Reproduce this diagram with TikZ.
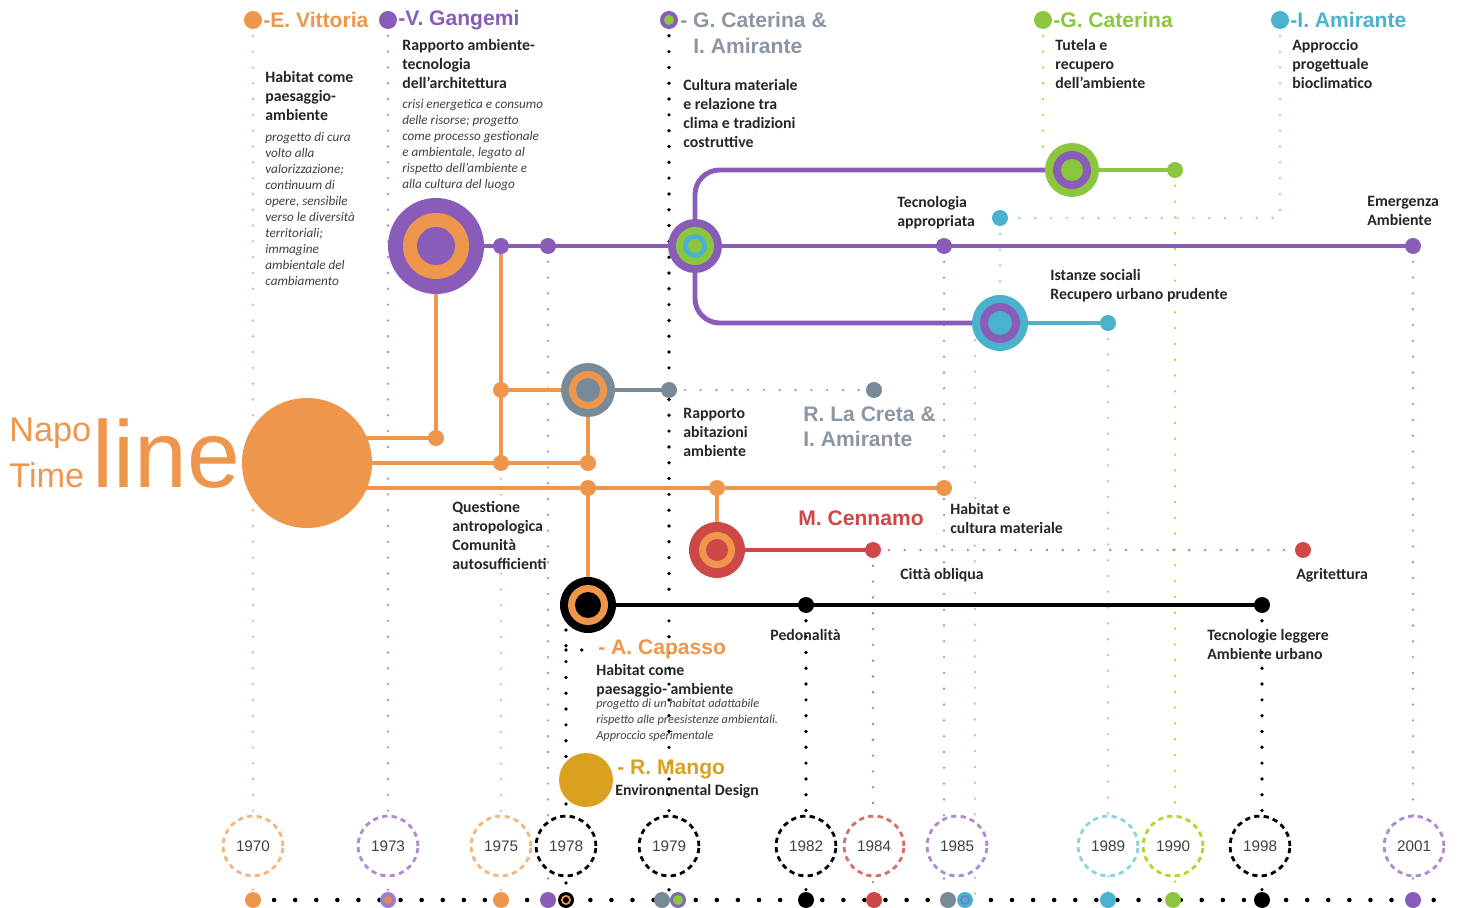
\documentclass[tikz,border=0pt]{standalone}
\usepackage{fontspec}
\setmainfont{Carlito}
\setsansfont{Liberation Sans}
\definecolor{orangeT}{RGB}{238,150,75}
\definecolor{purpleT}{RGB}{138,92,186}
\definecolor{grayT}{RGB}{120,138,152}
\definecolor{greenT}{RGB}{140,198,63}
\definecolor{blueT}{RGB}{74,178,204}
\definecolor{redT}{RGB}{206,72,72}
\definecolor{goldT}{RGB}{218,160,32}
\definecolor{nameT}{RGB}{140,150,162}
\tikzset{
  tline/.style={line width=2.8pt,draw=#1},
  ydots/.style={draw=#1,line width=1.5pt,line cap=round,dash pattern=on 0pt off 9pt},
  bdots/.style={draw=black,line width=2.1pt,line cap=round,dash pattern=on 0pt off 9pt},
  yearc/.style={circle,draw=#1,fill=white,line width=1.6pt,dash pattern=on 3pt off 2.4pt,
    minimum size=34pt,inner sep=0pt,font=\sffamily\fontsize{8.7}{9}\selectfont,text=black!75},
  tname/.style={font=\sffamily\bfseries\fontsize{12}{15}\selectfont,text=#1,anchor=west,inner sep=0pt},
  tnote/.style={font=\bfseries\fontsize{9}{10.8}\selectfont,align=left,anchor=north west,
    inner sep=0pt,text=black!85},
  tital/.style={font=\itshape\fontsize{7.5}{9.1}\selectfont,align=left,anchor=north west,
    inner sep=0pt,text=black!75},
}
\begin{document}
\begin{tikzpicture}[x=0.02cm,y=-0.02cm]
  \useasboundingbox (0,0) rectangle (1460,908);
  % legend points on top
  \coordinate (lgEV) at (253,20);
  \coordinate (lgVG) at (388,20);
  \coordinate (lgGI) at (669,20);
  \coordinate (lgGC) at (1043,20);
  \coordinate (lgIA) at (1280,20);
  % hubs and branch points
  \coordinate (napo) at (307,463);
  \coordinate (gang) at (436,246);
  \coordinate (v1) at (436,438);
  \coordinate (j1) at (501,246);
  \coordinate (j2) at (548,246);
  \coordinate (gcia) at (695,246);
  \coordinate (tec) at (944,246);
  \coordinate (emer) at (1413,246);
  \coordinate (gcat) at (1072,170);
  \coordinate (gcatT) at (1043,148);
  \coordinate (gcatend) at (1175,170);
  \coordinate (iami) at (1000,323);
  \coordinate (iamiS) at (975,340);
  \coordinate (iamiend) at (1108,323);
  \coordinate (bio) at (1000,218);
  \coordinate (lcr) at (588,390);
  \coordinate (lcrA) at (501,390);
  \coordinate (lcrB) at (669,390);
  \coordinate (lcrC) at (874,390);
  \coordinate (o1) at (501,463);
  \coordinate (o2) at (588,463);
  \coordinate (o3) at (588,488);
  \coordinate (o4) at (717,488);
  \coordinate (o5) at (944,488);
  \coordinate (cen) at (717,550);
  \coordinate (cenA) at (873,550);
  \coordinate (cenB) at (1303,550);
  \coordinate (cap) at (588,605);
  \coordinate (capS) at (566,630);
  \coordinate (capT) at (566,650);
  \coordinate (capA) at (806,605);
  \coordinate (capB) at (1262,605);
  \coordinate (mango) at (586,780);
  % bottom marks
  \coordinate (b1970) at (253,900);
  \coordinate (b1973) at (388,900);
  \coordinate (b1975) at (501,900);
  \coordinate (b1978a) at (548,900);
  \coordinate (b1978b) at (566,900);
  \coordinate (b1979a) at (662,900);
  \coordinate (b1979b) at (678,900);
  \coordinate (b1982) at (806,900);
  \coordinate (b1984) at (874,900);
  \coordinate (b1985a) at (948,900);
  \coordinate (b1985b) at (965,900);
  \coordinate (b1989) at (1108,900);
  \coordinate (b1990) at (1173,900);
  \coordinate (b1998) at (1262,900);
  \coordinate (b2001) at (1413,900);
  \coordinate (bend) at (1452,900);

  % dotted guides
  \draw[ydots=orangeT!75] (lgEV) -- (lgEV |- b1970);
  \draw[ydots=purpleT!70] (lgVG) -- (lgVG |- b1970);
  \draw[ydots=orangeT!70] (o1) -- (o1 |- b1970);
  \draw[ydots=purpleT!70] (j2) -- (j2 |- b1970);
  \draw[ydots=purpleT!70] (tec) -- (tec |- b1970);
  \draw[ydots=blueT!60] (iamiS) -- (iamiS |- b1970);
  \draw[ydots=blueT!60] (iamiend) -- (iamiend |- b1970);
  \draw[ydots=greenT!70!yellow] (gcatend) -- (gcatend |- b1970);
  \draw[ydots=purpleT!70] (emer) -- (emer |- b1970);
  \draw[ydots=redT!80] (cenA) -- (cenA |- b1970);
  \draw[ydots=greenT!70!yellow] (lgGC) -- (gcatT);
  \draw[ydots=blueT!60] (lgIA) -- (lgIA |- bio) -- (bio);
  \draw[ydots=blueT!60] (bio) -- (iami);
  \draw[ydots=grayT!80] (lcrB) -- (lcrC);
  \draw[ydots=redT!80] (cenA) -- (cenB);
  \draw[bdots] (lgGI) -- (lgGI |- b1970);
  \draw[bdots] (capS) -- (capS |- b1970);
  \draw[bdots] (capA) -- (capA |- b1970);
  \draw[bdots] (capB) -- (capB |- b1970);
  \draw[bdots] (capT) -- (594,650);
  \draw[bdots,line width=2.6pt,dash pattern=on 0pt off 12pt] (b1970) -- (bend);

  % branches
  \draw[tline=orangeT] (napo |- v1) -- (v1) -- (gang);
  \draw[tline=orangeT] (napo) -- (o2) -- (lcr);
  \draw[tline=orangeT] (j1) -- (o1);
  \draw[tline=orangeT] (lcrA) -- (lcr);
  \draw[tline=orangeT] (napo |- o3) -- (o5);
  \draw[tline=orangeT] (o3) -- (cap);
  \draw[tline=orangeT] (o4) -- (cen);
  \draw[tline=purpleT] (gang) -- (emer);
  \draw[tline=purpleT,rounded corners=14pt] (gcia) -- (gcia |- gcat) -- (gcat);
  \draw[tline=purpleT,rounded corners=14pt] (gcia) -- (gcia |- iami) -- (iami);
  \draw[tline=greenT] (gcat) -- (gcatend);
  \draw[tline=blueT] (iami) -- (iamiend);
  \draw[tline=grayT] (lcr) -- (lcrB);
  \draw[tline=redT] (cen) -- (cenA);
  \draw[tline=black] (cap) -- (capB);

  % rings
  \fill[orangeT] (napo) circle[radius=65];
  \fill[purpleT] (gang) circle[radius=48];
  \fill[orangeT] (gang) circle[radius=33];
  \fill[purpleT] (gang) circle[radius=19];
  \fill[purpleT] (gcia) circle[radius=27];
  \fill[greenT] (gcia) circle[radius=19];
  \fill[blueT] (gcia) circle[radius=12];
  \fill[greenT] (gcia) circle[radius=7];
  \fill[greenT] (gcat) circle[radius=27];
  \fill[purpleT] (gcat) circle[radius=19];
  \fill[greenT] (gcat) circle[radius=11];
  \fill[blueT] (iami) circle[radius=28];
  \fill[purpleT] (iami) circle[radius=20];
  \fill[blueT] (iami) circle[radius=12];
  \fill[grayT] (lcr) circle[radius=27];
  \fill[orangeT] (lcr) circle[radius=19];
  \fill[grayT] (lcr) circle[radius=12];
  \fill[redT] (cen) circle[radius=28];
  \fill[orangeT] (cen) circle[radius=18];
  \fill[redT] (cen) circle[radius=11];
  \fill[black] (cap) circle[radius=28];
  \fill[orangeT] (cap) circle[radius=20];
  \fill[black] (cap) circle[radius=13];
  \fill[goldT] (mango) circle[radius=27];

  % dots
  \foreach \p in {j1,j2,tec,emer}
    \fill[purpleT] (\p) circle[radius=8];
  \foreach \p in {v1,lcrA,o1,o2,o3,o4,o5}
    \fill[orangeT] (\p) circle[radius=8];
  \fill[greenT] (gcatend) circle[radius=8];
  \fill[blueT] (iamiend) circle[radius=8];
  \fill[blueT] (bio) circle[radius=8];
  \fill[grayT] (lcrB) circle[radius=8];
  \fill[grayT] (lcrC) circle[radius=8];
  \fill[redT] (cenA) circle[radius=8];
  \fill[redT] (cenB) circle[radius=8];
  \fill[black] (capA) circle[radius=8];
  \fill[black] (capB) circle[radius=8];

  % legend
  \fill[orangeT] (lgEV) circle[radius=9];
  \fill[purpleT] (lgVG) circle[radius=9];
  \fill[purpleT] (lgGI) circle[radius=9];
  \fill[greenT] (lgGI) circle[radius=5];
  \fill[greenT] (lgGC) circle[radius=9];
  \fill[blueT] (lgIA) circle[radius=9];
  \node[tname=orangeT] (nEV) at (263,20) {-E. Vittoria};
  \node[tname=purpleT] (nVG) at (398,20) {-V. Gangemi};
  \node[tname=nameT] (nGI) at (680,20) {- G. Caterina \&};
  \node[tname=nameT] (nGIb) at (693,46) {I. Amirante};
  \node[tname=greenT] (nGC) at (1053,20) {-G. Caterina};
  \node[tname=blueT] (nIA) at (1290,20) {-I. Amirante};
  \node[tname=nameT] (nLC) at (803,414) {R. La Creta \&};
  \node[tname=nameT] (nLCb) at (803,439) {I. Amirante};
  \node[tname=redT] (nMC) at (798,518) {M. Cennamo};
  \node[tname=orangeT] (nAC) at (598,649) {- A. Capasso};
  \node[tname=goldT] (nRM) at (617,769) {- R. Mango};

  % title
  \node[font=\sffamily\fontsize{19.5}{20}\selectfont,text=orangeT,anchor=base west,inner sep=0pt]
    (napoA) at (9,442) {Napo};
  \node[font=\sffamily\fontsize{19.5}{20}\selectfont,text=orangeT,anchor=base west,inner sep=0pt]
    (napoB) at (9,488) {Time};
  \node[font=\sffamily\fontsize{54}{54}\selectfont,text=orangeT,anchor=base west,inner sep=0pt]
    (napoC) at (92,488) {line};

  % texts
  \node[tnote] (tEV) at (265,71) {Habitat come\\paesaggio-\\ambiente};
  \node[tital] (tEVi) at (265,132) {progetto di cura\\volto alla\\valorizzazione;\\continuum di\\opere, sensibile\\verso le diversità\\territoriali;\\immagine\\ambientale del\\cambiamento};
  \node[tnote] (tVG) at (402,39) {Rapporto ambiente-\\tecnologia\\dell'architettura};
  \node[tital] (tVGi) at (402,99) {crisi energetica e consumo\\delle risorse; progetto\\come processo gestionale\\e ambientale, legato al\\rispetto dell'ambiente e\\alla cultura del luogo};
  \node[tnote] (tGI) at (683,79) {Cultura materiale\\e relazione tra\\clima e tradizioni\\costruttive};
  \node[tnote] (tGC) at (1055,39) {Tutela e\\recupero\\dell'ambiente};
  \node[tnote] (tIA) at (1292,39) {Approccio\\progettuale\\bioclimatico};
  \node[tnote] (tTec) at (897,196) {Tecnologia\\appropriata};
  \node[tnote] (tEm) at (1367,196) {Emergenza\\Ambiente};
  \node[tnote] (tIst) at (1050,269) {Istanze sociali\\Recupero urbano prudente};
  \node[tnote] (tRap) at (683,408) {Rapporto\\abitazioni\\ambiente};
  \node[tnote] (tQue) at (452,501) {Questione\\antropologica\\Comunità\\autosufficienti};
  \node[tnote] (tHab) at (950,503) {Habitat e\\cultura materiale};
  \node[tnote] (tCit) at (900,568) {Città obliqua};
  \node[tnote] (tAgr) at (1296,568) {Agritettura};
  \node[tnote] (tPed) at (770,629) {Pedonalità};
  \node[tnote] (tLeg) at (1207,629) {Tecnologie leggere\\Ambiente urbano};
  \node[tnote] (tAC) at (596,664) {Habitat come\\paesaggio- ambiente};
  \node[tital,font=\itshape\fontsize{7}{9.1}\selectfont] (tACi) at (596,699) {progetto di un habitat adattabile\\rispetto alle preesistenze ambientali.\\Approccio sperimentale};
  \node[tnote] (tRM) at (615,784) {Environmental Design};

  % years
  \foreach \x/\yr/\c in {253/1970/orangeT!70, 388/1973/purpleT!70, 501/1975/orangeT!70,
      566/1978/black, 669/1979/black, 806/1982/black, 874/1984/redT!80,
      957/1985/purpleT!70, 1108/1989/blueT!60, 1173/1990/greenT!70!yellow,
      1260/1998/black, 1414/2001/purpleT!70}
    \node[yearc=\c] (y\yr) at (\x,846) {\yr};

  % bottom marks
  \fill[orangeT] (b1970) circle[radius=8];
  \fill[purpleT!80] (b1973) circle[radius=8];
  \fill[orangeT!80!purpleT] (b1973) circle[radius=4];
  \fill[orangeT] (b1975) circle[radius=8];
  \fill[purpleT] (b1978a) circle[radius=8];
  \fill[black] (b1978b) circle[radius=8];
  \fill[orangeT] (b1978b) circle[radius=5];
  \fill[black] (b1978b) circle[radius=3];
  \fill[grayT] (b1979a) circle[radius=8];
  \fill[purpleT!70!grayT] (b1979b) circle[radius=8];
  \fill[greenT] (b1979b) circle[radius=5];
  \fill[black] (b1982) circle[radius=8];
  \fill[redT] (b1984) circle[radius=8];
  \fill[grayT] (b1985a) circle[radius=8];
  \fill[blueT] (b1985b) circle[radius=8];
  \fill[purpleT!60!blueT] (b1985b) circle[radius=5];
  \fill[blueT] (b1985b) circle[radius=3];
  \fill[blueT] (b1989) circle[radius=8];
  \fill[greenT] (b1990) circle[radius=8];
  \fill[black] (b1998) circle[radius=8];
  \fill[purpleT] (b2001) circle[radius=8];
\end{tikzpicture}
\end{document}
